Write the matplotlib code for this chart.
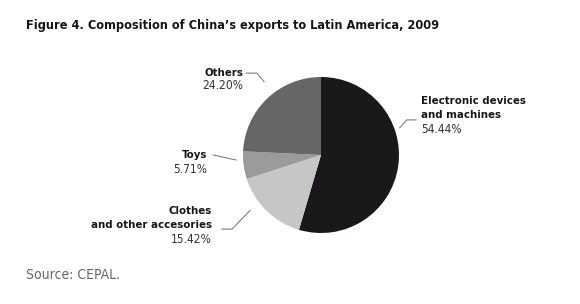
import matplotlib
matplotlib.use("Agg")
import matplotlib.pyplot as plt
import numpy as np

categories = ["Electronic devices\nand machines", "Clothes\nand other accesories", "Toys", "Others"]
values = [54.44, 15.42, 5.71, 24.20]
value_labels = ["54.44%", "15.42%", "5.71%", "24.20%"]
colors = ["#1b181c", "#c6c6c6", "#9b9b9b", "#666666"]

W, H = 580, 304
fig = plt.figure(figsize=(W / 100, H / 100), dpi=100)
fig.patch.set_facecolor("white")

cx, cy, r = 321, 155, 78
ax = fig.add_axes([(cx - r) / W, 1 - (cy + r) / H, 2 * r / W, 2 * r / H])
ax.pie(values, colors=colors, startangle=90, counterclock=False,
       wedgeprops=dict(linewidth=0))
ax.set_xlim(-1, 1)
ax.set_ylim(-1, 1)
ax.set_aspect("equal")
ax.axis("off")

FONT = dict(family="DejaVu Sans", stretch="condensed")
fs_name = 8.2
fs_val = 8.6
name_c = "#161616"
val_c = "#333333"

layout = {
    0: dict(x=1.28, ys=[0.69, 0.51], vy=0.33, ha="left",
            line=[(1.01, 0.35), (1.10, 0.45), (1.22, 0.45)]),
    1: dict(x=-1.40, ys=[-0.72, -0.90], vy=-1.08, ha="right",
            line=[(-1.27, -0.95), (-1.14, -0.95), (-0.91, -0.71)]),
    2: dict(x=-1.46, ys=[0.0], vy=-0.18, ha="right",
            line=[(-1.38, 0.0), (-1.09, -0.064)]),
    3: dict(x=-1.0, ys=[1.05], vy=0.885, ha="right",
            line=[(-0.96, 1.05), (-0.82, 1.05), (-0.73, 0.94)]),
}
for i, cat in enumerate(categories):
    L = layout[i]
    for line, y in zip(cat.split("\n"), L["ys"]):
        ax.text(L["x"], y, line, ha=L["ha"], va="center", fontsize=fs_name,
                fontweight="bold", color=name_c, clip_on=False, **FONT)
    ax.text(L["x"], L["vy"], value_labels[i], ha=L["ha"], va="center",
            fontsize=fs_val, color=val_c, clip_on=False, **FONT)
    xs, ys = zip(*L["line"])
    ax.plot(xs, ys, color="#808080", lw=0.8, clip_on=False)

fig.text(26 / W, 1 - 26 / H,
         "Figure 4. Composition of China\u2019s exports to Latin America, 2009",
         ha="left", va="center", fontsize=9.1, fontweight="bold",
         color="#161616", **FONT)
fig.text(26 / W, 1 - 275 / H, "Source: CEPAL.", ha="left", va="center",
         fontsize=10, color="#666666", **FONT)

fig.savefig("out.png", dpi=100)
